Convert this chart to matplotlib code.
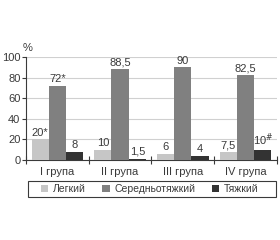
import matplotlib.pyplot as plt
from matplotlib.patches import Rectangle
import numpy as np

plt.rcParams["font.family"] = ["Liberation Sans", "DejaVu Sans"]

groups = ["I група", "II група", "III група", "IV група"]
series = ["Легкий", "Середньотяжкий", "Тяжкий"]
light = [20, 10, 6, 7.5]
medium = [72, 88.5, 90, 82.5]
severe = [8, 1.5, 4, 10]
light_lbl = ["20*", "10", "6", "7,5"]
medium_lbl = ["72*", "88,5", "90", "82,5"]
severe_lbl = ["8", "1,5", "4", "10$^{\\#}$"]
colors = ["#c6c6c6", "#808080", "#333333"]
txt = "#3a3a3a"
fs = 8

fig = plt.figure(figsize=(2.8, 2.4), dpi=100)
ax = fig.add_axes([0.093, 0.333, 0.896, 0.43])

x = np.arange(len(groups))
w = 0.275
for i, (vals, lbls) in enumerate(zip([light, medium, severe], [light_lbl, medium_lbl, severe_lbl])):
    pos = x + (i - 1) * w
    ax.bar(pos, vals, width=w, color=colors[i], label=series[i], zorder=3)
    for p, v, t in zip(pos, vals, lbls):
        ax.text(p, v + 1.5, t, ha="center", va="bottom", fontsize=fs, color=txt)

ax.set_xlim(-0.5, len(groups) - 0.5)
ax.set_ylim(0, 100)
ax.set_yticks([0, 20, 40, 60, 80, 100])
ax.yaxis.grid(True, color="#d0d0d0", linewidth=0.8, zorder=0)
ax.tick_params(axis="y", labelsize=fs, length=3, width=0.8, colors=txt, pad=1)

ax.set_xticks(x)
ax.set_xticklabels(groups, fontsize=fs, color=txt)
ax.tick_params(axis="x", length=0, pad=5)
ax.set_xticks(np.arange(len(groups) + 1) - 0.5, minor=True)
ax.tick_params(axis="x", which="minor", length=6, width=0.8, direction="inout", color=txt)

for s in ["top", "right"]:
    ax.spines[s].set_visible(False)
for s in ["left", "bottom"]:
    ax.spines[s].set_color(txt)
    ax.spines[s].set_linewidth(0.8)

fig.text(0.08, 0.8, "%", fontsize=fs, color=txt, ha="left", va="center")

# legend box drawn separately so the entries can sit inside it freely
fig.patches.append(Rectangle((0.1, 0.179), 0.886, 0.067, transform=fig.transFigure,
                             fill=False, edgecolor=txt, linewidth=0.8))
leg = fig.legend(loc="center", bbox_to_anchor=(0.535, 0.2125), ncol=3,
                 fontsize=7.5, frameon=False, handlelength=0.7, handleheight=0.7,
                 handletextpad=0.45, columnspacing=1.6, borderpad=0, borderaxespad=0)
for t in leg.get_texts():
    t.set_color(txt)

fig.savefig("out.png", dpi=100)
